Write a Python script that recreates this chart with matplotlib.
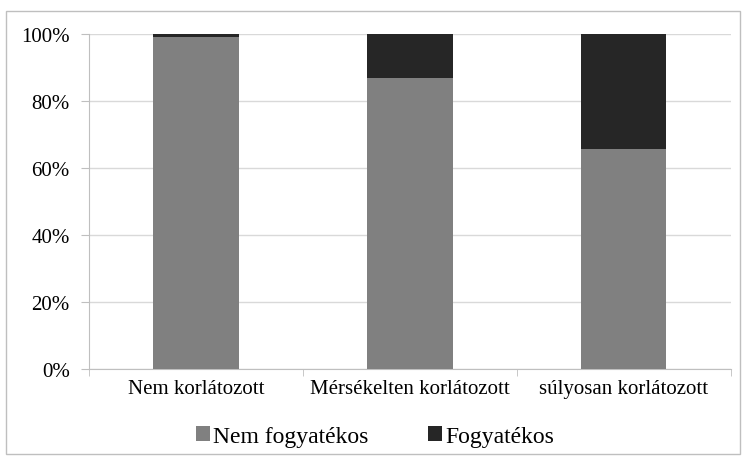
import numpy as np
import matplotlib.pyplot as plt
from matplotlib.patches import Rectangle
from matplotlib.ticker import FuncFormatter

categories = ["Nem korlátozott", "Mérsékelten korlátozott", "súlyosan korlátozott"]
nem_fogyatekos = [99.0, 87.0, 65.7]
fogyatekos = [1.0, 13.0, 34.3]
yticks = [0, 20, 40, 60, 80, 100]

plt.rcParams['font.family'] = ['Liberation Serif', 'DejaVu Serif']
fs = 15

fig = plt.figure(figsize=(7.44, 4.64), dpi=100)
ax = fig.add_axes([0.12, 0.2026, 0.862, 0.722])

x = np.arange(len(categories))
ax.bar(x, nem_fogyatekos, width=0.4, color='#808080', label='Nem fogyatékos', zorder=3)
ax.bar(x, fogyatekos, width=0.4, bottom=nem_fogyatekos, color='#262626',
       label='Fogyatékos', zorder=3)

ax.set_xlim(-0.5, len(categories) - 0.5)
ax.set_ylim(0, 100)
ax.set_yticks(yticks)
ax.yaxis.set_major_formatter(FuncFormatter(lambda v, p: f"{v:.0f}%"))
ax.set_xticks(x)
ax.set_xticklabels(categories)
ax.set_xticks(np.arange(-0.5, len(categories)), minor=True)
ax.tick_params(axis='x', which='major', length=0, labelsize=fs, pad=7)
ax.tick_params(axis='x', which='minor', length=5, color='#bfbfbf', direction='out')
ax.tick_params(axis='y', length=6, color='#bfbfbf', labelsize=fs, pad=8)

ax.grid(axis='y', color='#d9d9d9', linewidth=1, zorder=0)
for s in ['top', 'right']:
    ax.spines[s].set_visible(False)
for s in ['left', 'bottom']:
    ax.spines[s].set_color('#bfbfbf')

fig.legend(loc='center', bbox_to_anchor=(0.504, 0.058), ncol=2, frameon=False,
           fontsize=17, handlelength=0.6, handleheight=0.6, handletextpad=0.13,
           columnspacing=2.5)

fig.patches.append(Rectangle((0.008, 0.02), 0.987, 0.955, transform=fig.transFigure,
                             fill=False, edgecolor='#bfbfbf', linewidth=1))

fig.savefig('out.png', dpi=100)
